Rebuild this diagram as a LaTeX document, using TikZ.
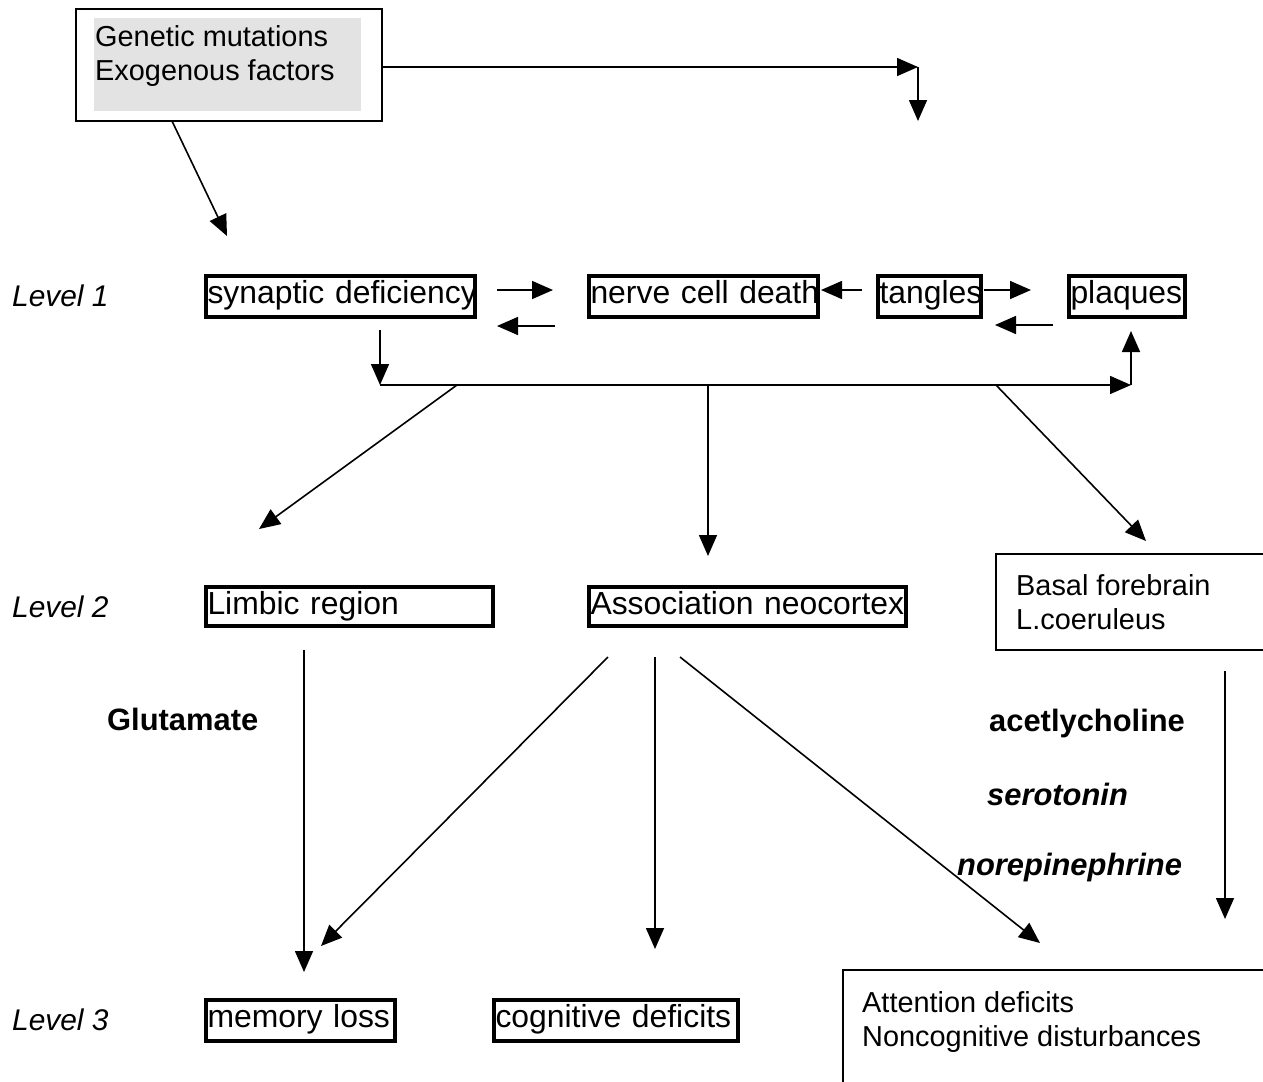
\documentclass[tikz,border=0pt]{standalone}
\usepackage{fontspec}
\setmainfont{Liberation Sans}
\usetikzlibrary{arrows.meta,calc}
\definecolor{boxgray}{RGB}{227,227,227}
\begin{document}
\begin{tikzpicture}[x=1bp,y=-1bp,
  arr/.style={line width=1.6bp,-{Triangle[length=21bp,width=18bp]}},
  thickbox/.style={draw,line width=4bp,inner xsep=1.5bp,inner ysep=0bp,
    text height=23bp,text depth=8bp,minimum height=41bp,anchor=west,
    align=left,text width=#1,font=\fontsize{32}{36}\selectfont},
  thinline/.style={line width=1.6bp},
  thintext/.style={anchor=base west,inner sep=0pt,align=left,
    font=\fontsize{29}{34}\selectfont},
  lvl/.style={anchor=base west,inner sep=0pt,font=\fontsize{30}{34}\selectfont\itshape},
  nt/.style={anchor=base west,inner sep=0pt,font=\fontsize{31}{34}\selectfont\bfseries},
  nti/.style={nt,font=\fontsize{31}{34}\selectfont\bfseries\itshape}]
\fill[white] (0,0) rectangle (1263,1082);
\useasboundingbox (0,0) rectangle (1263,1082);

% top box
\node[draw,thinline,minimum width=306bp,minimum height=112bp,inner sep=0pt,anchor=north west] (top) at (75,8) {};
\fill[boxgray] (94,18) rectangle (361,111);
\node[thintext] (toptext) at (95,80) {Genetic mutations\\Exogenous factors};

% level labels
\node[lvl] (l1) at (12,306) {Level 1};
\node[lvl] (l2) at (12,617) {Level 2};
\node[lvl] (l3) at (12,1030) {Level 3};

% level 1 boxes
\node[thickbox=266bp] (syn) at (204,296) {\mbox{synaptic deficiency}};
\node[thickbox=226bp] (ncd) at (587,296) {\mbox{nerve cell death}};
\node[thickbox=100bp] (tan) at (876,296) {\mbox{tangles}};
\node[thickbox=113bp] (plq) at (1067,296) {\mbox{plaques}};

% level 2 boxes
\node[thickbox=284bp,minimum height=39bp] (lim) at (204,606.5) {\mbox{Limbic region}};
\node[thickbox=314bp,minimum height=39bp] (asn) at (587,606.5) {\mbox{Association neocortex}};
\draw[thinline] (1275,554) -| (996,650) -- (1275,650);
\node[thintext] (bas) at (1016,629) {Basal forebrain\\L.coeruleus};

% level 3 boxes
\node[thickbox=186bp] (mem) at (204,1020) {\mbox{memory loss}};
\node[thickbox=241bp] (cog) at (492,1020) {\mbox{cognitive deficits}};
\draw[thinline] (1275,970) -| (843,1095);
\node[thintext] (att) at (862,1046) {Attention deficits\\Noncognitive disturbances};

% transmitter labels
\node[nt] (glu) at (107,730) {Glutamate};
\node[nt] (ach) at (989,731) {acetlycholine};
\node[nti] (ser) at (987,805) {serotonin};
\node[nti] (nor) at (957,875) {norepinephrine};

% coordinates
\coordinate (c1) at (918,67);
\coordinate (c1b) at (918,121);
\coordinate (c2) at (172,121);
\coordinate (c2b) at (227,236);
\coordinate (a1s) at (497,290);
\coordinate (a1e) at (553,290);
\coordinate (a2s) at (555,326);
\coordinate (a2e) at (497,326);
\coordinate (a3s) at (862,290);
\coordinate (a3e) at (821,290);
\coordinate (a4s) at (984,290);
\coordinate (a4e) at (1031,290);
\coordinate (a5s) at (1053,325);
\coordinate (a5e) at (995,325);
\coordinate (b0) at (380,330);
\coordinate (b1) at (380,385);
\coordinate (b2) at (1131,385);
\coordinate (b3) at (1131,331);
\coordinate (d1s) at (457,385);
\coordinate (d1e) at (259,529);
\coordinate (d2s) at (708,385);
\coordinate (d2e) at (708,556);
\coordinate (d3s) at (996,385);
\coordinate (d3e) at (1146,541);
\coordinate (e1s) at (304,650);
\coordinate (e1e) at (304,972);
\coordinate (e2s) at (608,657);
\coordinate (e2e) at (321,946);
\coordinate (e3s) at (655,657);
\coordinate (e3e) at (655,949);
\coordinate (e4s) at (680,657);
\coordinate (e4e) at (1040,943);
\coordinate (e5s) at (1225,671);
\coordinate (e5e) at (1225,919);

% connectors
\draw[arr] (top.east |- c1) -- (c1);
\draw[arr] (c1) -- (c1b);
\draw[arr] (c2) -- (c2b);
\draw[arr] (a1s) -- (a1e);
\draw[arr] (a2s) -- (a2e);
\draw[arr] (a3s) -- (a3e);
\draw[arr] (a4s) -- (a4e);
\draw[arr] (a5s) -- (a5e);
\draw[arr] (b0) -- (b1);
\draw[arr] (b1) -- (b2);
\draw[arr] (b2) -- (b3);
\draw[arr] (d1s) -- (d1e);
\draw[arr] (d2s) -- (d2e);
\draw[arr] (d3s) -- (d3e);
\draw[arr] (e1s) -- (e1e);
\draw[arr] (e2s) -- (e2e);
\draw[arr] (e3s) -- (e3e);
\draw[arr] (e4s) -- (e4e);
\draw[arr] (e5s) -- (e5e);
\end{tikzpicture}
\end{document}
